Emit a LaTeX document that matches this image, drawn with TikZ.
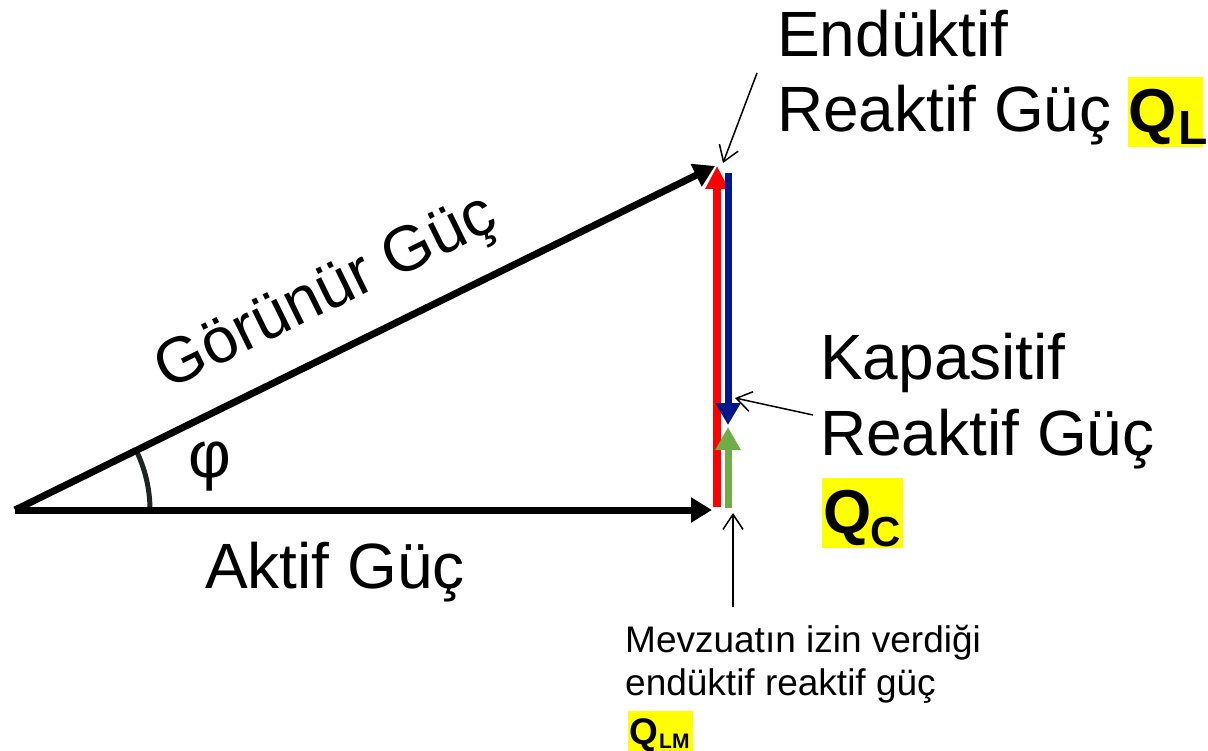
\documentclass[tikz,border=0pt]{standalone}
\usepackage{fontspec}
\setmainfont{Liberation Sans}
\usetikzlibrary{arrows.meta}
\definecolor{qred}{RGB}{255,0,0}
\definecolor{qblue}{RGB}{0,22,140}
\definecolor{qgreen}{RGB}{112,173,71}
\definecolor{qyellow}{RGB}{255,255,0}
\definecolor{arcgray}{RGB}{30,36,34}
\tikzset{
  vec/.style={line width=7pt, -{Triangle[length=21pt,width=24pt]}},
  note/.style={line width=1.5pt, -{Straight Barb[length=15pt,width=20pt,line width=1.5pt]}},
  big/.style={inner sep=0pt, font=\fontsize{64}{76}\selectfont},
  small/.style={inner sep=0pt, font=\fontsize{37}{44}\selectfont},
  hl/.style={fill=qyellow, inner sep=0pt}
}
\begin{document}
\begin{tikzpicture}[x=1pt,y=-1pt]
\useasboundingbox (0,0) rectangle (1208,751);
% key points
\coordinate (O) at (15,510);
\coordinate (A) at (712,510);
\coordinate (B) at (715,166);
\coordinate (Rb) at (717,507);
\coordinate (Rt) at (717,166);
\coordinate (Bt) at (728,173);
\coordinate (Bb) at (728,425);
\coordinate (Gb) at (728,508);
\coordinate (Gt) at (728,427);
% angle arc
\draw[arcgray, line width=5pt] (150,510) arc[start angle=0, end angle=-26.2, radius=135];
% vectors
\draw[vec, black] (O) -- (A);
\draw[vec, black] (O) -- (B);
\draw[line width=8pt, qred, -{Triangle[length=23pt,width=22pt]}] (Rb) -- (Rt);
\draw[line width=7pt, qblue, -{Triangle[length=22pt,width=24pt]}] (Bt) -- (Bb);
\draw[line width=7pt, qgreen, -{Triangle[length=23pt,width=24pt]}] (Gb) -- (Gt);
% labels
\node[big, rotate=26.2] (gor) at (327,295) {Görünür Güç};
\node[big, anchor=base west] (akt) at (205,588) {Aktif Güç};
\node[inner sep=0pt, font=\fontsize{66}{76}\selectfont] (phi) at (210,467) {φ};
\node[big, anchor=base west] (end1) at (777,57) {Endüktif};
\node[big, anchor=base west] (end2) at (777,132) {Reaktif Güç};
\node[hl, minimum width=75pt, minimum height=70pt] (QL) at (1165.5,112) {};
\node[inner sep=0pt, anchor=base west, font=\fontsize{62}{70}\selectfont\bfseries] (QLq) at (1128,133) {Q};
\node[inner sep=0pt, anchor=base west, font=\fontsize{48}{56}\selectfont\bfseries] (QLs) at (1178,145) {L};
\node[big, anchor=base west] (kap1) at (820,380) {Kapasitif};
\node[big, anchor=base west] (kap2) at (820,455) {Reaktif Güç};
\node[hl, minimum width=81pt, minimum height=70pt] (QC) at (862.5,513) {};
\node[inner sep=0pt, anchor=base west, font=\fontsize{62}{70}\selectfont\bfseries] (QCq) at (823,533) {Q};
\node[inner sep=0pt, anchor=base west, font=\fontsize{42}{50}\selectfont\bfseries] (QCs) at (870,546) {C};
\node[small, anchor=base west] (mev1) at (625,652) {Mevzuatın izin verdiği};
\node[small, anchor=base west] (mev2) at (625,695) {endüktif reaktif güç};
\node[hl, minimum width=65pt, minimum height=40pt] (QLM) at (660,731) {};
\node[inner sep=0pt, anchor=base west, font=\fontsize{37}{44}\selectfont\bfseries] (QLMq) at (629,744) {Q};
\node[inner sep=0pt, anchor=base west, font=\fontsize{21}{26}\selectfont\bfseries] (QLMs) at (659,748) {LM};
% annotation arrows
\coordinate (n1s) at (757,73);
\coordinate (n1e) at (723,163);
\coordinate (n2s) at (813,415);
\coordinate (n2e) at (735,398);
\coordinate (n3s) at (733,607);
\coordinate (n3e) at (733,513);
\draw[note] (n1s) -- (n1e);
\draw[note] (n2s) -- (n2e);
\draw[note] (n3s) -- (n3e);
\end{tikzpicture}
\end{document}
